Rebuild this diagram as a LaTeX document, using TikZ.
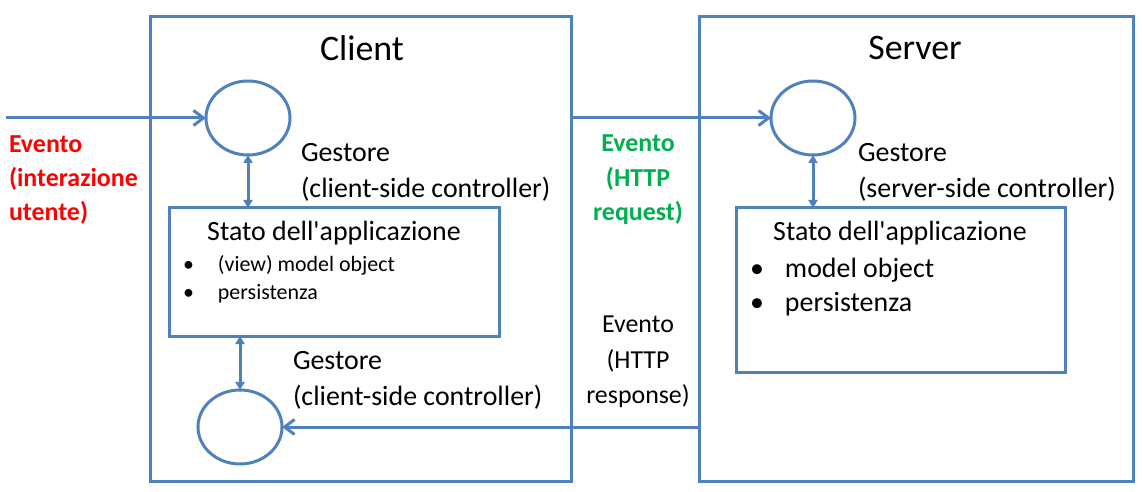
\documentclass[tikz,border=0pt]{standalone}
\usepackage{fontspec}
\setmainfont{Carlito}[Ligatures=TeXOff]
\usetikzlibrary{arrows.meta,shapes.geometric}
\definecolor{officeblue}{HTML}{4F81BD}
\definecolor{evred}{HTML}{FF0000}
\definecolor{evgreen}{HTML}{00B050}
\begin{document}
\begin{tikzpicture}[x=1bp,y=-1bp,
  frame/.style={draw=officeblue,line width=3bp,rectangle,inner sep=0pt,outer sep=0pt},
  handler/.style={draw=officeblue,line width=3bp,ellipse,minimum width=84bp,minimum height=74bp,inner sep=0pt,outer sep=0pt},
  flow/.style={draw=officeblue,line width=3bp,-{Straight Barb[length=10bp,width=15bp]}},
  link/.style={draw=officeblue,line width=3bp,{Triangle[length=8bp,width=9bp]}-{Triangle[length=8bp,width=9bp]}},
  lbl/.style={inner sep=0pt,outer sep=0pt,align=left,font=\fontsize{28}{36}\selectfont},
  title/.style={inner sep=0pt,outer sep=0pt,font=\fontsize{36}{40}\selectfont},
  evlbl/.style={inner sep=0pt,outer sep=0pt,font=\bfseries\fontsize{26}{34.5}\selectfont},
  resplbl/.style={inner sep=0pt,outer sep=0pt,align=center,font=\fontsize{26}{35.5}\selectfont},
  bulletsmall/.style={inner sep=0pt,outer sep=0pt,align=left,font=\fontsize{22}{28}\selectfont},
  bulletbig/.style={inner sep=0pt,outer sep=0pt,align=left,font=\fontsize{28}{34}\selectfont}
]
\useasboundingbox (0,0) rectangle (1142,492);

% containers
\node[frame,minimum width=420bp,minimum height=464bp] (client) at (361,249) {};
\node[frame,minimum width=434bp,minimum height=464bp] (server) at (916,249) {};
\node[title] (ctitle) at (362,48) {Client};
\node[title] (stitle) at (915,48) {Server};

% state boxes
\node[frame,minimum width=329bp,minimum height=128bp] (cstate) at (334.5,272) {};
\node[frame,minimum width=329bp,minimum height=164bp] (sstate) at (900.5,290) {};
\node[lbl] (cstatetitle) at (334,233) {Stato dell'applicazione};
\node[lbl] (sstatetitle) at (900,233) {Stato dell'applicazione};
\node[bulletsmall,anchor=west] (clist) at (183,279)
  {\makebox[35bp][l]{\textbullet}(view) model object\\\makebox[35bp][l]{\textbullet}persistenza};
\node[bulletbig,anchor=west] (slist) at (750,287)
  {\makebox[35bp][l]{\textbullet}model object\\\makebox[35bp][l]{\textbullet}persistenza};

% handlers
\node[handler] (c1) at (248,118) {};
\node[handler] (c2) at (240,427) {};
\node[handler] (s1) at (813,118) {};

% handler labels
\node[lbl,anchor=west] (g1) at (301,172) {Gestore\\(client-side controller)};
\node[lbl,anchor=west] (g2) at (293,380) {Gestore\\(client-side controller)};
\node[lbl,anchor=west] (g3) at (858,172) {Gestore\\(server-side controller)};

% event labels
\node[evlbl,anchor=west,align=left,text=evred] (ev1) at (9,180) {Evento\\(interazione\\utente)};
\node[evlbl,align=center,text=evgreen] (ev2) at (638,180) {Evento\\(HTTP\\request)};
\node[resplbl] (ev3) at (638,362) {Evento\\(HTTP\\response)};

% connectors
\coordinate (userin) at (6,118);
\coordinate (reqstart) at (client.east |- c1.west);
\coordinate (respstart) at (server.west |- c2.east);
\draw[flow] (userin) -- (c1.west);
\draw[flow] (reqstart) -- (s1.west);
\draw[flow] (respstart) -- (c2.east);
\draw[link] (c1.south) -- (c1.south |- cstate.north);
\draw[link] (c2.north |- cstate.south) -- (c2.north);
\draw[link] (s1.south) -- (s1.south |- sstate.north);
\end{tikzpicture}
\end{document}
